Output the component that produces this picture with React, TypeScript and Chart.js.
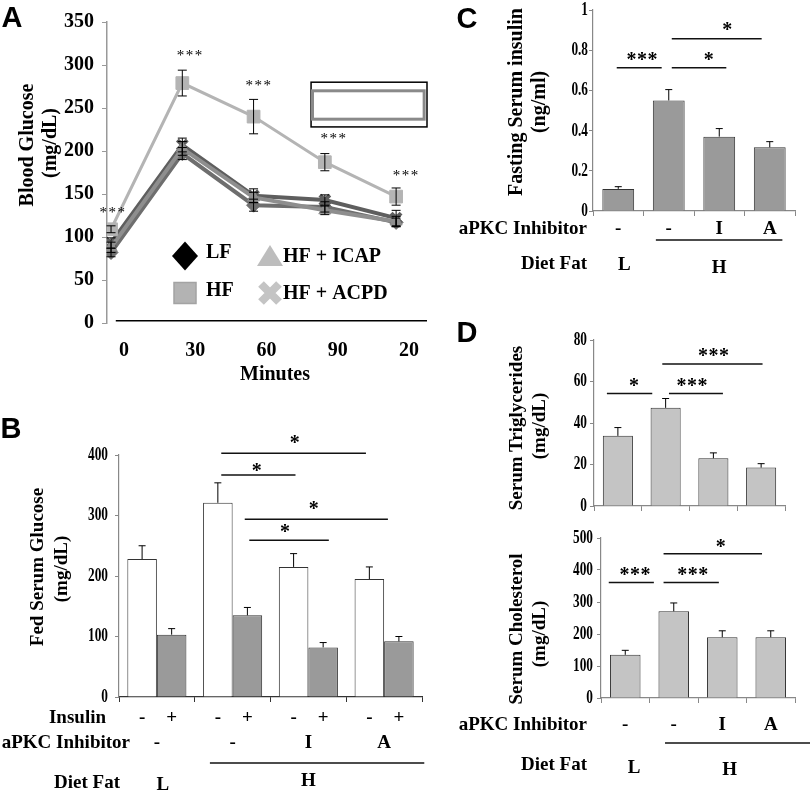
import React, { useEffect, useRef } from "react";
import { Chart, registerables } from "chart.js";
Chart.register(...registerables);

const SERIF = "'Liberation Serif', 'Times New Roman', Times, serif";
const SANS = "'Liberation Sans', Arial, Helvetica, sans-serif";

// ---------------- Panel A data ----------------
const minutes = [0, 30, 60, 90, 120];
const minuteLabels = ["0", "30", "60", "90", "20"];
const glucoseHF = [109, 279, 240, 187, 147];
const glucoseHFErr = [4, 15, 20, 10, 10];
const glucoseICAP = [88, 203, 146, 131, 118];
const glucoseICAPErr = [6, 8, 6, 5, 6];
const glucoseACPD = [93, 207, 148, 143, 122];
const glucoseACPDErr = [6, 8, 8, 6, 9];
const glucoseLF = [82, 197, 137, 135, 117];
const glucoseLFErr = [5, 7, 7, 6, 5];
const glucoseStarMinutes = [0.5, 33, 62, 93.5, 124];
const glucoseStarValues = [131, 314, 279, 218, 175];
const legendA = ["LF", "HF", "HF + ICAP", "HF + ACPD"];

// ---------------- Panel B data ----------------
const groups = ["LF", "HF", "HF + ICAP", "HF + ACPD"];
const fedNoInsulin = [228, 321, 215, 195];
const fedNoInsulinErr = [22, 33, 22, 20];
const fedInsulin = [103, 135, 82, 92];
const fedInsulinErr = [10, 13, 8, 8];
const fedSig = [
  { from: 0.85, to: 2.76, level: 403, stars: "*", at: 1.82, starLevel: 425 },
  { from: 0.85, to: 1.83, level: 367, stars: "*", at: 1.32, starLevel: 380 },
  { from: 1.16, to: 3.05, level: 294, stars: "*", at: 2.07, starLevel: 317 },
  { from: 1.22, to: 2.27, level: 259, stars: "*", at: 1.69, starLevel: 278 },
];

// ---------------- Panel C data ----------------
const insulinValues = [0.11, 0.55, 0.37, 0.317];
const insulinErr = [0.011, 0.054, 0.04, 0.028];
const insulinSig = [
  { from: -0.03, to: 0.86, level: 0.713, stars: "***", at: 0.47, starLevel: 0.766 },
  { from: 1.06, to: 2.14, level: 0.713, stars: "*", at: 1.79, starLevel: 0.766 },
  { from: 1.06, to: 2.84, level: 0.857, stars: "*", at: 2.16, starLevel: 0.915 },
];

// ---------------- Panel D data ----------------
const trigValues = [33.8, 47.3, 23.0, 18.5];
const trigErr = [4.0, 4.5, 2.6, 1.9];
const trigSig = [
  { from: -0.23, to: 0.72, level: 54.2, stars: "*", at: 0.34, starLevel: 59.7 },
  { from: 1.07, to: 2.2, level: 54.2, stars: "***", at: 1.55, starLevel: 59.7 },
  { from: 0.93, to: 3.03, level: 68.4, stars: "***", at: 2.0, starLevel: 73.7 },
];
const cholValues = [135, 271, 190, 190];
const cholErr = [14, 26, 20, 20];
const cholSig = [
  { from: -0.34, to: 0.59, level: 361, stars: "***", at: 0.2, starLevel: 394 },
  { from: 0.79, to: 1.93, level: 361, stars: "***", at: 1.39, starLevel: 394 },
  { from: 0.79, to: 2.82, level: 451, stars: "*", at: 1.97, starLevel: 484 },
];

// ---------------- Row labels ----------------
const insulinMarks = ["-", "+"];
const inhibitorLabels = ["-", "-", "I", "A"];
const dietLabels = ["L", "H"];
const rowInsulin = "Insulin";
const rowInhibitor = "aPKC Inhibitor";
const rowDiet = "Diet Fat";

// ---------------- helpers ----------------
function drawText(ctx: any, text: string, x: number, y: number, font: string, align: any = "center", baseline: any = "middle", sx = 1, color = "#000") {
  ctx.save();
  ctx.font = font;
  ctx.fillStyle = color;
  ctx.textAlign = align;
  ctx.textBaseline = baseline;
  ctx.translate(x, y);
  ctx.scale(sx, 1);
  ctx.fillText(text, 0, 0);
  ctx.restore();
}

function drawStars(ctx: any, text: string, cx: number, cy: number, size: number, pitch: number, weight: string) {
  const n = text.length;
  ctx.save();
  ctx.font = `${weight} ${size}px ${SERIF}`;
  ctx.fillStyle = "#000";
  ctx.textAlign = "center";
  ctx.textBaseline = "alphabetic";
  for (let k = 0; k < n; k++) ctx.fillText("*", cx + (k - (n - 1) / 2) * pitch, cy + size * 0.47);
  ctx.restore();
}

function hLine(ctx: any, x1: number, x2: number, y: number, w = 1.5, color = "#000") {
  ctx.save();
  ctx.strokeStyle = color;
  ctx.lineWidth = w;
  ctx.beginPath();
  ctx.moveTo(x1, y);
  ctx.lineTo(x2, y);
  ctx.stroke();
  ctx.restore();
}

function fmtTick(v: number) {
  return String(Math.round(v * 100) / 100);
}

// ---------------- Panel A config ----------------
const aSeries = [
  { label: "HF", values: glucoseHF, errors: glucoseHFErr, color: "#b4b4b4", width: 3, point: "rect", radius: 9, pbw: 1 },
  { label: "HF + ICAP", values: glucoseICAP, errors: glucoseICAPErr, color: "#8e8e8e", width: 4, point: "triangle", radius: 7, pbw: 1 },
  { label: "HF + ACPD", values: glucoseACPD, errors: glucoseACPDErr, color: "#5e5e5e", width: 4, point: "crossRot", radius: 7, pbw: 4 },
  { label: "LF", values: glucoseLF, errors: glucoseLFErr, color: "#6e6e6e", width: 4, point: "rectRot", radius: 7, pbw: 1 },
];

const plugA = {
  id: "plugA",
  afterDatasetsDraw(chart: any) {
    const { ctx } = chart;
    const x = chart.scales.x;
    const y = chart.scales.y;
    ctx.save();
    ctx.strokeStyle = "#000";
    ctx.lineWidth = 1;
    aSeries.forEach((s) =>
      s.values.forEach((v, i) => {
        const px = x.getPixelForValue(minutes[i]);
        const y1 = y.getPixelForValue(v + s.errors[i]);
        const y2 = y.getPixelForValue(v - s.errors[i]);
        ctx.beginPath();
        ctx.moveTo(px, y1);
        ctx.lineTo(px, y2);
        ctx.moveTo(px - 4.5, y1);
        ctx.lineTo(px + 4.5, y1);
        ctx.moveTo(px - 4.5, y2);
        ctx.lineTo(px + 4.5, y2);
        ctx.stroke();
      })
    );
    ctx.restore();
  },
  afterDraw(chart: any) {
    const { ctx, chartArea } = chart;
    const x = chart.scales.x;
    const y = chart.scales.y;
    // black base line
    hLine(ctx, x.getPixelForValue(2), chartArea.right, y.getPixelForValue(2.5), 1.5, "#000");
    // empty legend box
    ctx.save();
    ctx.fillStyle = "#fff";
    ctx.strokeStyle = "#000";
    ctx.lineWidth = 1.5;
    const bx0 = x.getPixelForValue(84.2), bx1 = x.getPixelForValue(133);
    const by0 = y.getPixelForValue(280), by1 = y.getPixelForValue(228);
    ctx.fillRect(bx0, by0, bx1 - bx0, by1 - by0);
    ctx.strokeRect(bx0, by0, bx1 - bx0, by1 - by0);
    ctx.strokeStyle = "#8a8a8a";
    ctx.lineWidth = 3;
    const ix0 = x.getPixelForValue(84.8), ix1 = x.getPixelForValue(131.8);
    const iy0 = y.getPixelForValue(270), iy1 = y.getPixelForValue(237);
    ctx.strokeRect(ix0, iy0, ix1 - ix0, iy1 - iy0);
    ctx.restore();
    // stars
    glucoseStarMinutes.forEach((m, i) =>
      drawStars(ctx, "***", x.getPixelForValue(m), y.getPixelForValue(glucoseStarValues[i]), 15, 9, "normal")
    );
    // x labels
    const lf = `bold 20px ${SERIF}`;
    minutes.forEach((m, i) => drawText(ctx, minuteLabels[i], x.getPixelForValue(m) + 13, chartArea.bottom + 28, lf));
    // legend
    const L = chartArea.left, T = chartArea.top;
    const c1 = L + 78, c2 = L + 163, r1 = T + 234, r2 = T + 271;
    ctx.save();
    ctx.fillStyle = "#000";
    ctx.beginPath();
    ctx.moveTo(c1, r1 - 14.5);
    ctx.lineTo(c1 + 13, r1);
    ctx.lineTo(c1, r1 + 14.5);
    ctx.lineTo(c1 - 13, r1);
    ctx.closePath();
    ctx.fill();
    ctx.fillStyle = "#b3b3b3";
    ctx.strokeStyle = "#a3a3a3";
    ctx.lineWidth = 1.5;
    ctx.fillRect(c1 - 11, r2 - 10.5, 22, 21);
    ctx.strokeRect(c1 - 11, r2 - 10.5, 22, 21);
    ctx.fillStyle = "#bdbdbd";
    ctx.beginPath();
    ctx.moveTo(c2, r1 - 11);
    ctx.lineTo(c2 + 13, r1 + 10);
    ctx.lineTo(c2 - 13, r1 + 10);
    ctx.closePath();
    ctx.fill();
    ctx.strokeStyle = "#c4c4c4";
    ctx.lineWidth = 8;
    ctx.beginPath();
    ctx.moveTo(c2 - 9, r2 - 9);
    ctx.lineTo(c2 + 9, r2 + 9);
    ctx.moveTo(c2 + 9, r2 - 9);
    ctx.lineTo(c2 - 9, r2 + 9);
    ctx.stroke();
    ctx.restore();
    const tf = `bold 20px ${SERIF}`;
    drawText(ctx, legendA[0], c1 + 21, r1 - 3, tf, "left");
    drawText(ctx, legendA[1], c1 + 21, r2 - 2, tf, "left");
    drawText(ctx, legendA[2], c2 + 13, r1 + 1, tf, "left");
    drawText(ctx, legendA[3], c2 + 13, r2 + 1, tf, "left");
  },
};

function configA(): any {
  return {
    type: "line",
    data: {
      datasets: aSeries.map((s) => ({
        label: s.label,
        data: minutes.map((m, i) => ({ x: m, y: s.values[i] })),
        borderColor: s.color,
        backgroundColor: s.color,
        borderWidth: s.width,
        pointStyle: s.point,
        pointRadius: s.radius,
        pointBorderColor: s.color,
        pointBackgroundColor: s.color,
        pointBorderWidth: s.pbw,
        tension: 0,
      })),
    },
    options: {
      responsive: false,
      animation: false,
      layout: { padding: { top: 22, right: 23, bottom: 57, left: 0 } },
      plugins: { legend: { display: false }, tooltip: { enabled: false } },
      scales: {
        x: { type: "linear", min: -1.7, max: 133, display: false },
        y: {
          min: 0,
          max: 350,
          ticks: { stepSize: 50, color: "#000", padding: 8, font: { family: SERIF, weight: "bold", size: 20 } },
          grid: { drawOnChartArea: false, color: "#999", tickLength: 5 },
          border: { color: "#999", width: 1.5 },
          afterFit: (s: any) => {
            s.width = 107;
          },
        },
      },
    },
    plugins: [plugA],
  };
}

// ---------------- generic bar config ----------------
function drawRows(chart: any, r: any) {
  const { ctx, chartArea } = chart;
  const x = chart.scales.x;
  const b = chartArea.bottom, l = chartArea.left;
  const f = `bold 19px ${SERIF}`;
  if (r.insulin) {
    drawText(ctx, rowInsulin, l + r.insulin.titleDx, b + r.insulin.dy, f, "right");
    insulinMarks.forEach((m, d) =>
      chart.getDatasetMeta(d).data.forEach((el: any) => drawText(ctx, m, el.x, b + r.insulin.dy, f))
    );
  }
  drawText(ctx, rowInhibitor, l + r.inhibitor.titleDx, b + r.inhibitor.dy, f, "right");
  inhibitorLabels.forEach((t, i) => drawText(ctx, t, x.getPixelForValue(i), b + r.inhibitor.dy, f));
  hLine(ctx, x.getPixelForValue(r.line.from), x.getPixelForValue(r.line.to), b + r.line.dy, 1.5, "#111");
  drawText(ctx, rowDiet, l + r.diet.titleDx, b + r.diet.dy, f, "right");
  drawText(ctx, dietLabels[0], x.getPixelForValue(r.diet.lAt), b + r.diet.lDy, f);
  drawText(ctx, dietLabels[1], x.getPixelForValue(r.diet.hAt), b + r.diet.hDy, f);
}

function barConfig(spec: any): any {
  const plugin = {
    id: "barExtras",
    afterDatasetsDraw(chart: any) {
      const { ctx } = chart;
      const y = chart.scales.y;
      ctx.save();
      ctx.strokeStyle = "#000";
      ctx.lineWidth = 1;
      spec.series.forEach((s: any, d: number) => {
        chart.getDatasetMeta(d).data.forEach((el: any, j: number) => {
          const top = y.getPixelForValue(s.values[j] + s.errors[j]);
          ctx.beginPath();
          ctx.moveTo(el.x, el.y);
          ctx.lineTo(el.x, top);
          ctx.moveTo(el.x - 3.5, top);
          ctx.lineTo(el.x + 3.5, top);
          ctx.stroke();
        });
      });
      ctx.restore();
    },
    afterDraw(chart: any) {
      const { ctx, chartArea } = chart;
      const x = chart.scales.x;
      const y = chart.scales.y;
      y.ticks.forEach((t: any) =>
        drawText(ctx, fmtTick(t.value), chartArea.left - spec.tickGap, y.getPixelForValue(t.value), `bold 19px ${SERIF}`, "right", "middle", 0.7)
      );
      spec.sigs.forEach((sg: any) => {
        hLine(ctx, x.getPixelForValue(sg.from), x.getPixelForValue(sg.to), y.getPixelForValue(sg.level), 1.5, "#111");
        drawStars(ctx, sg.stars, x.getPixelForValue(sg.at), y.getPixelForValue(sg.starLevel), 20, 10.5, "bold");
      });
      if (spec.rows) drawRows(chart, spec.rows);
    },
  };
  return {
    type: "bar",
    data: {
      labels: spec.labels,
      datasets: spec.series.map((s: any) => ({
        data: s.values,
        backgroundColor: s.fill,
        borderColor: "#333",
        borderWidth: 1,
        barPercentage: spec.barPct,
        categoryPercentage: spec.catPct,
      })),
    },
    options: {
      responsive: false,
      animation: false,
      layout: { padding: { top: spec.padTop, right: spec.padRight, left: 0, bottom: 0 } },
      plugins: { legend: { display: false }, tooltip: { enabled: false } },
      scales: {
        x: {
          ticks: { display: false },
          grid: { drawOnChartArea: false, color: spec.xAxisColor, tickLength: 5, offset: true },
          border: { color: spec.xAxisColor, width: 1.2 },
          afterFit: (s: any) => {
            s.height = spec.xHeight;
          },
        },
        y: {
          min: 0,
          max: spec.yMax,
          ticks: { display: false, stepSize: spec.yStep },
          grid: { drawOnChartArea: false, color: "#888", tickLength: 4 },
          border: { color: "#888", width: 1.2 },
          afterFit: (s: any) => {
            s.width = spec.yWidth;
          },
        },
      },
    },
    plugins: [plugin],
  };
}

const configB = () =>
  barConfig({
    labels: groups,
    series: [
      { values: fedNoInsulin, errors: fedNoInsulinErr, fill: "#ffffff" },
      { values: fedInsulin, errors: fedInsulinErr, fill: "#9a9a9a" },
    ],
    yMax: 400, yStep: 100, yWidth: 119, xHeight: 95, padTop: 70, padRight: 28,
    barPct: 1, catPct: 0.78, tickGap: 11, xAxisColor: "#333",
    sigs: fedSig,
    rows: {
      insulin: { dy: 21, titleDx: -13 },
      inhibitor: { dy: 46, titleDx: 11 },
      line: { dy: 66, from: 0.7, to: 3.53 },
      diet: { dy: 86, titleDx: 1, lDy: 88, hDy: 84, lAt: 0.08, hAt: 2 },
    },
  });

const configC = () =>
  barConfig({
    labels: groups,
    series: [{ values: insulinValues, errors: insulinErr, fill: "#9a9a9a" }],
    yMax: 1, yStep: 0.2, yWidth: 163, xHeight: 69, padTop: 10, padRight: 15,
    barPct: 0.63, catPct: 1, tickGap: 5, xAxisColor: "#888",
    sigs: insulinSig,
    rows: {
      inhibitor: { dy: 18, titleDx: -6 },
      line: { dy: 29, from: 0.745, to: 3.25 },
      diet: { dy: 53, titleDx: -6, lDy: 54, hDy: 57, lAt: 0.12, hAt: 2 },
    },
  });

const configD1 = () =>
  barConfig({
    labels: groups,
    series: [{ values: trigValues, errors: trigErr, fill: "#c4c4c4" }],
    yMax: 80, yStep: 20, yWidth: 164, xHeight: 9, padTop: 20, padRight: 25,
    barPct: 0.63, catPct: 1, tickGap: 7, xAxisColor: "#888",
    sigs: trigSig,
  });

const configD2 = () =>
  barConfig({
    labels: groups,
    series: [{ values: cholValues, errors: cholErr, fill: "#c4c4c4" }],
    yMax: 500, yStep: 100, yWidth: 171, xHeight: 94, padTop: 18, padRight: 15,
    barPct: 0.63, catPct: 1, tickGap: 8, xAxisColor: "#888",
    sigs: cholSig,
    rows: {
      inhibitor: { dy: 27, titleDx: -14 },
      line: { dy: 45, from: 0.82, to: 3.81 },
      diet: { dy: 67, titleDx: -14, lDy: 70, hDy: 72, lAt: 0.18, hAt: 2.15 },
    },
  });

// ---------------- components ----------------
function ChartBox({ left, top, width, height, make }: any) {
  const ref = useRef<HTMLCanvasElement>(null);
  useEffect(() => {
    const chart = new Chart(ref.current as HTMLCanvasElement, make());
    return () => chart.destroy();
  }, []);
  return (
    <canvas
      ref={ref}
      width={width}
      height={height}
      style={{ position: "absolute", left, top, width, height }}
    />
  );
}

function Label({ x, y, text, size = 20, rot = false, family = SERIF }: any) {
  return (
    <div
      style={{
        position: "absolute",
        left: x,
        top: y,
        transform: `translate(-50%, -50%)${rot ? " rotate(-90deg)" : ""}`,
        whiteSpace: "nowrap",
        fontFamily: family,
        fontWeight: 700,
        fontSize: size,
        lineHeight: `${size}px`,
        color: "#000",
      }}
    >
      {text}
    </div>
  );
}

export default function App() {
  return (
    <div style={{ position: "absolute", left: 0, top: 0, width: 810, height: 792, background: "#fff", overflow: "hidden" }}>
      <ChartBox left={0} top={0} width={450} height={380} make={configA} />
      <ChartBox left={0} top={385} width={450} height={407} make={configB} />
      <ChartBox left={430} top={0} width={380} height={280} make={configC} />
      <ChartBox left={430} top={320} width={380} height={195} make={configD1} />
      <ChartBox left={430} top={520} width={380} height={272} make={configD2} />

      <Label x={12} y={17} text="A" size={29} family={SANS} />
      <Label x={11} y={428} text="B" size={29} family={SANS} />
      <Label x={467} y={18} text="C" size={29} family={SANS} />
      <Label x={467} y={332} text="D" size={29} family={SANS} />

      <Label x={26} y={145} text="Blood Glucose" rot />
      <Label x={49} y={143} text="(mg/dL)" rot />
      <Label x={275} y={373} text="Minutes" />

      <Label x={36} y={567} text="Fed Serum Glucose" size={19} rot />
      <Label x={60} y={569} text="(mg/dL)" size={19} rot />

      <Label x={515} y={102} text="Fasting Serum insulin" rot />
      <Label x={538} y={102} text="(ng/ml)" rot />

      <Label x={515} y={428} text="Serum Triglycerides" size={19} rot />
      <Label x={538} y={426} text="(mg/dL)" size={19} rot />
      <Label x={515} y={629} text="Serum Cholesterol" size={19} rot />
      <Label x={538} y={634} text="(mg/dL)" size={19} rot />
    </div>
  );
}
